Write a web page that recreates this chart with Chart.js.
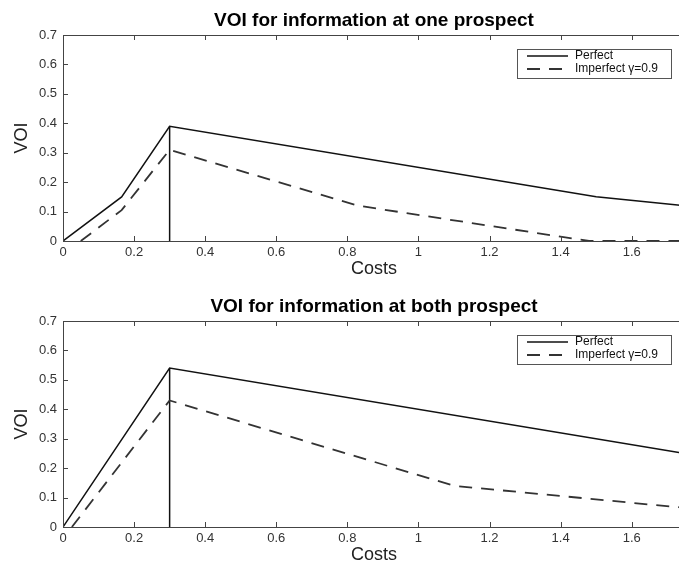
<!DOCTYPE html>
<html>
<head>
<meta charset="utf-8">
<title>VOI charts</title>
<script src="https://cdn.jsdelivr.net/npm/chart.js@4/dist/chart.umd.min.js"></script>
<style>
  html, body { margin: 0; padding: 0; background: #fff; overflow: hidden; }
  body { width: 679px; height: 571px; position: relative; }
  .panel { position: absolute; left: 0; width: 690px; height: 285px; }
  #panelOne { top: 0; }
  #panelBoth { top: 286px; }
</style>
</head>
<body>
<div class="panel" id="panelOne"><canvas id="chartOne" width="690" height="285"></canvas></div>
<div class="panel" id="panelBoth"><canvas id="chartBoth" width="690" height="285"></canvas></div>
<script>
/**
 * VOI vs costs — two MATLAB-style panels drawn with Chart.js
 */

// one prospect
const perfectOneX = [0, 0.165, 0.3, 1.5, 1.75];
const perfectOneY = [0, 0.15, 0.39, 0.15, 0.12];
const imperfectOneX = [0.05, 0.165, 0.3, 0.83, 1.48, 1.75];
const imperfectOneY = [0, 0.105, 0.31, 0.12, 0, 0];
const cutOneX = [0.3, 0.3];
const cutOneY = [0, 0.39];

// both prospects
const perfectBothX = [0, 0.3, 1.75];
const perfectBothY = [0, 0.54, 0.25];
const imperfectBothX = [0.025, 0.3, 1.1, 1.75];
const imperfectBothY = [0, 0.43, 0.14, 0.065];
const cutBothX = [0.3, 0.3];
const cutBothY = [0, 0.54];

const seriesLabels = ['Perfect', 'Imperfect \u03b3=0.9'];
const xRange = [0, 1.75];
const yRange = [0, 0.7];
const xStep = 0.2;
const yStep = 0.1;

const FONT = "'Liberation Sans', Arial, Helvetica, sans-serif";
Chart.defaults.font.family = FONT;
Chart.defaults.color = '#333';

const zip = (xs, ys) => xs.map((x, i) => ({ x, y: ys[i] }));
// matlab style tick text: 1 not 1.0
const tickText = (v) => String(Math.round(v * 10) / 10);

// box round the axes, inward ticks on all four sides, title and legend
const matlabFrame = {
  id: 'matlabFrame',
  afterDraw(chart, args, opts) {
    const { ctx, chartArea: a, scales } = chart;
    const tick = 5;
    ctx.save();
    ctx.strokeStyle = '#444';
    ctx.lineWidth = 1;
    ctx.strokeRect(a.left + 0.5, a.top + 0.5, a.right - a.left, a.bottom - a.top);
    ctx.beginPath();
    scales.x.ticks.forEach((t) => {
      const px = Math.round(scales.x.getPixelForValue(t.value)) + 0.5;
      ctx.moveTo(px, a.bottom); ctx.lineTo(px, a.bottom - tick);
      ctx.moveTo(px, a.top); ctx.lineTo(px, a.top + tick);
    });
    scales.y.ticks.forEach((t) => {
      const py = Math.round(scales.y.getPixelForValue(t.value)) + 0.5;
      ctx.moveTo(a.left, py); ctx.lineTo(a.left + tick, py);
      ctx.moveTo(a.right, py); ctx.lineTo(a.right - tick, py);
    });
    ctx.stroke();

    // title, centred on the axes
    ctx.fillStyle = '#000';
    ctx.font = 'bold 19px ' + FONT;
    ctx.textAlign = 'center';
    ctx.textBaseline = 'middle';
    ctx.fillText(opts.title, (a.left + a.right) / 2, 20.5);

    // legend box
    const items = chart.data.datasets.filter((d) => d.label);
    const w = 154, h = 29;
    const bx = a.right - 14 - w, by = a.top + 14;
    ctx.fillStyle = '#fff';
    ctx.fillRect(bx, by, w, h);
    ctx.strokeStyle = '#555';
    ctx.strokeRect(bx + 0.5, by + 0.5, w, h);
    ctx.font = '12px ' + FONT;
    ctx.textAlign = 'left';
    items.forEach((d, i) => {
      const y = by + 7 + i * 13;
      ctx.beginPath();
      ctx.strokeStyle = d.borderColor;
      ctx.lineWidth = d.borderWidth;
      ctx.setLineDash(d.borderDash || []);
      ctx.moveTo(bx + 10, y); ctx.lineTo(bx + 51, y);
      ctx.stroke();
      ctx.setLineDash([]);
      ctx.fillStyle = '#111';
      ctx.fillText(d.label, bx + 58, y);
    });
    ctx.restore();
  },
};

function buildChart(id, title, perfect, imperfect, cut) {
  return new Chart(document.getElementById(id), {
    type: 'line',
    data: {
      datasets: [
        { label: seriesLabels[0], data: perfect, borderColor: '#111', borderWidth: 1.5 },
        { label: seriesLabels[1], data: imperfect, borderColor: '#333', borderWidth: 1.8, borderDash: [13, 9] },
        { label: '', data: cut, borderColor: '#111', borderWidth: 1.5 },
      ],
    },
    options: {
      responsive: false,
      animation: false,
      layout: { padding: { top: 35, right: 5, left: 0, bottom: 0 } },
      elements: { point: { radius: 0 }, line: { tension: 0 } },
      plugins: { legend: { display: false }, tooltip: { enabled: false }, matlabFrame: { title } },
      scales: {
        x: {
          type: 'linear',
          min: xRange[0],
          max: xRange[1],
          grid: { display: false, drawTicks: false },
          border: { display: false },
          ticks: { stepSize: xStep, includeBounds: false, autoSkip: false, maxRotation: 0, padding: 4, font: { size: 13 }, color: '#333', callback: tickText },
          title: { display: true, text: 'Costs', font: { size: 18 }, color: '#222', padding: { top: 0, bottom: 5 } },
          afterFit: (s) => { s.height = 44; },
        },
        y: {
          min: yRange[0],
          max: yRange[1],
          grid: { display: false, drawTicks: false },
          border: { display: false },
          ticks: { stepSize: yStep, autoSkip: false, padding: 6, font: { size: 13 }, color: '#333', callback: tickText },
          title: { display: true, text: 'VOI', font: { size: 18 }, color: '#222', padding: { top: 11, bottom: 0 } },
          afterFit: (s) => { s.width = 63; },
        },
      },
    },
    plugins: [matlabFrame],
  });
}

buildChart('chartOne', 'VOI for information at one prospect',
  zip(perfectOneX, perfectOneY), zip(imperfectOneX, imperfectOneY), zip(cutOneX, cutOneY));
buildChart('chartBoth', 'VOI for information at both prospect',
  zip(perfectBothX, perfectBothY), zip(imperfectBothX, imperfectBothY), zip(cutBothX, cutBothY));
</script>
</body>
</html>
